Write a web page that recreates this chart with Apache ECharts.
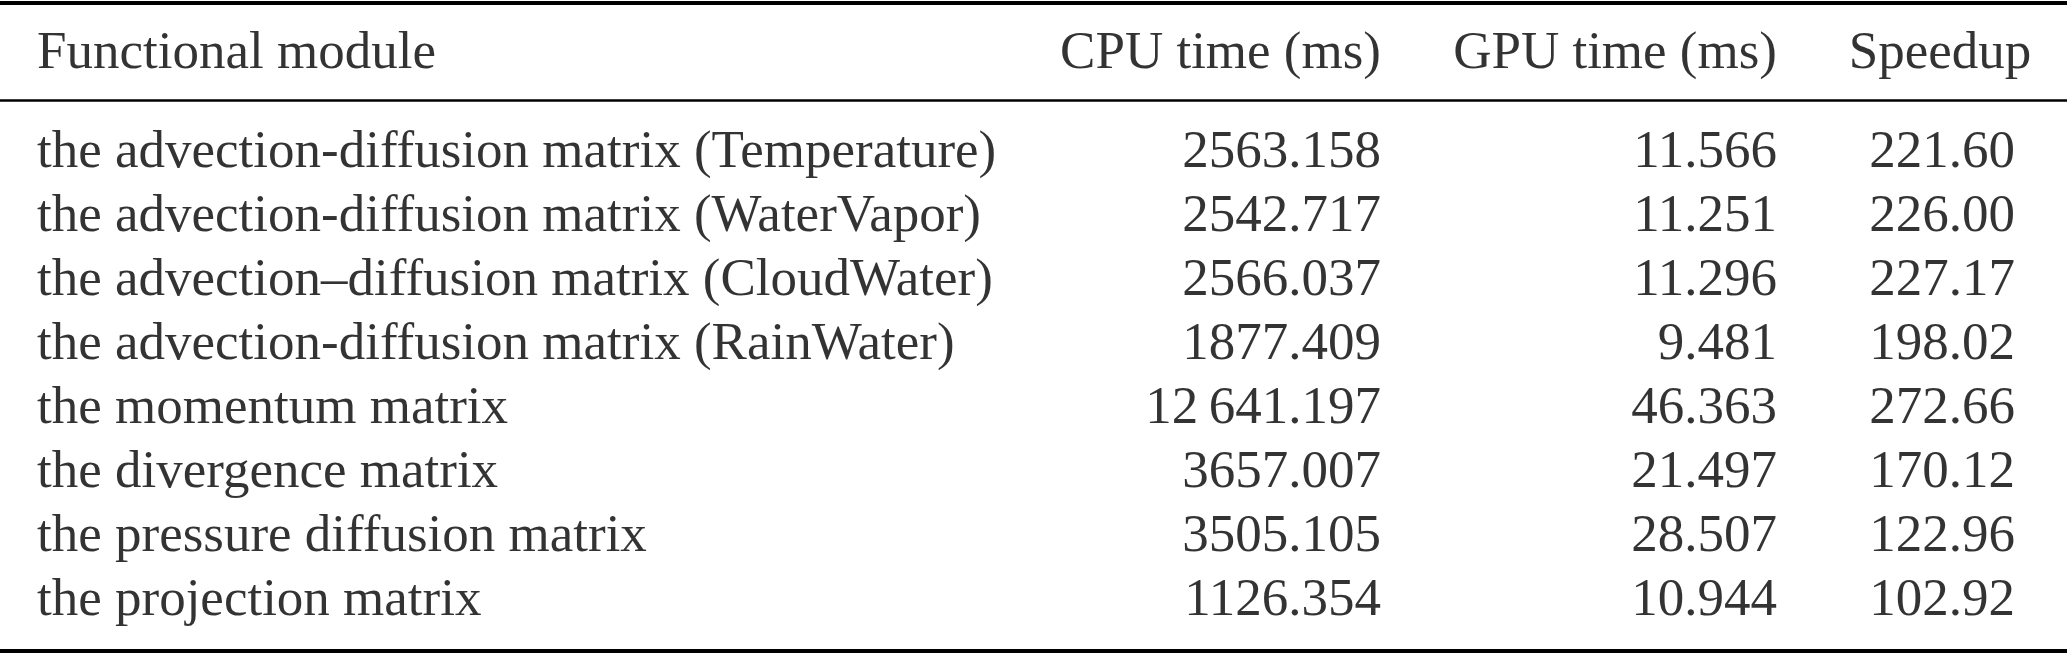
<!DOCTYPE html>
<html><head><meta charset="utf-8">
<script src="https://cdn.jsdelivr.net/npm/echarts@6/dist/echarts.min.js"></script>
<style>html,body{margin:0;padding:0;background:#fff}#c{width:2067px;height:656px}</style>
</head><body><div id="c"></div>
<script>
const headers = ['Functional module', 'CPU time (ms)', 'GPU time (ms)', 'Speedup'];
const modules = [
  'the advection-diffusion matrix (Temperature)',
  'the advection-diffusion matrix (WaterVapor)',
  'the advection\u2013diffusion matrix (CloudWater)',
  'the advection-diffusion matrix (RainWater)',
  'the momentum matrix',
  'the divergence matrix',
  'the pressure diffusion matrix',
  'the projection matrix'
];
const cpuTime = ['2563.158', '2542.717', '2566.037', '1877.409', '12\u2009641.197', '3657.007', '3505.105', '1126.354'];
const gpuTime = ['11.566', '11.251', '11.296', '9.481', '46.363', '21.497', '28.507', '10.944'];
const speedup = ['221.60', '226.00', '227.17', '198.02', '272.66', '170.12', '122.96', '102.92'];

const W = 2067, H = 656;
const headerY = 54, rowY0 = 153, rowStep = 64;
const colX = [37, 1381, 1777, 1942];
const colAlign = ['left', 'right', 'right', 'center'];
const headerX = [37, 1381, 1777, 1940];
const font = {fontFamily: 'Liberation Serif', fontSize: 53, color: '#000'};

const columns = [modules, cpuTime, gpuTime, speedup];
const series = columns.map((col, c) => ({
  type: 'scatter', symbolSize: 0, silent: true,
  data: [{value: [headerX[c], headerY], name: headers[c]}]
    .concat(col.map((t, i) => ({value: [colX[c], rowY0 + i * rowStep], name: t}))),
  label: Object.assign({show: true, position: 'inside', align: colAlign[c], verticalAlign: 'middle',
    formatter: p => p.name}, font)
}));
series.push({
  type: 'scatter', data: [], silent: true,
  markLine: {symbol: 'none', silent: true, label: {show: false},
    data: [
      [{coord: [0, 3], lineStyle: {width: 4}}, {coord: [W, 3]}],
      [{coord: [0, 100], lineStyle: {width: 2.5}}, {coord: [W, 100]}],
      [{coord: [0, 651], lineStyle: {width: 4}}, {coord: [W, 651]}]
    ],
    lineStyle: {color: '#000', type: 'solid'}}
});
const chart = echarts.init(document.getElementById('c'));
chart.setOption({
  animation: false,
  grid: {left: 0, right: 0, top: 0, bottom: 0},
  xAxis: {type: 'value', min: 0, max: W, show: false},
  yAxis: {type: 'value', min: 0, max: H, inverse: true, show: false},
  series
});
</script></body></html>
